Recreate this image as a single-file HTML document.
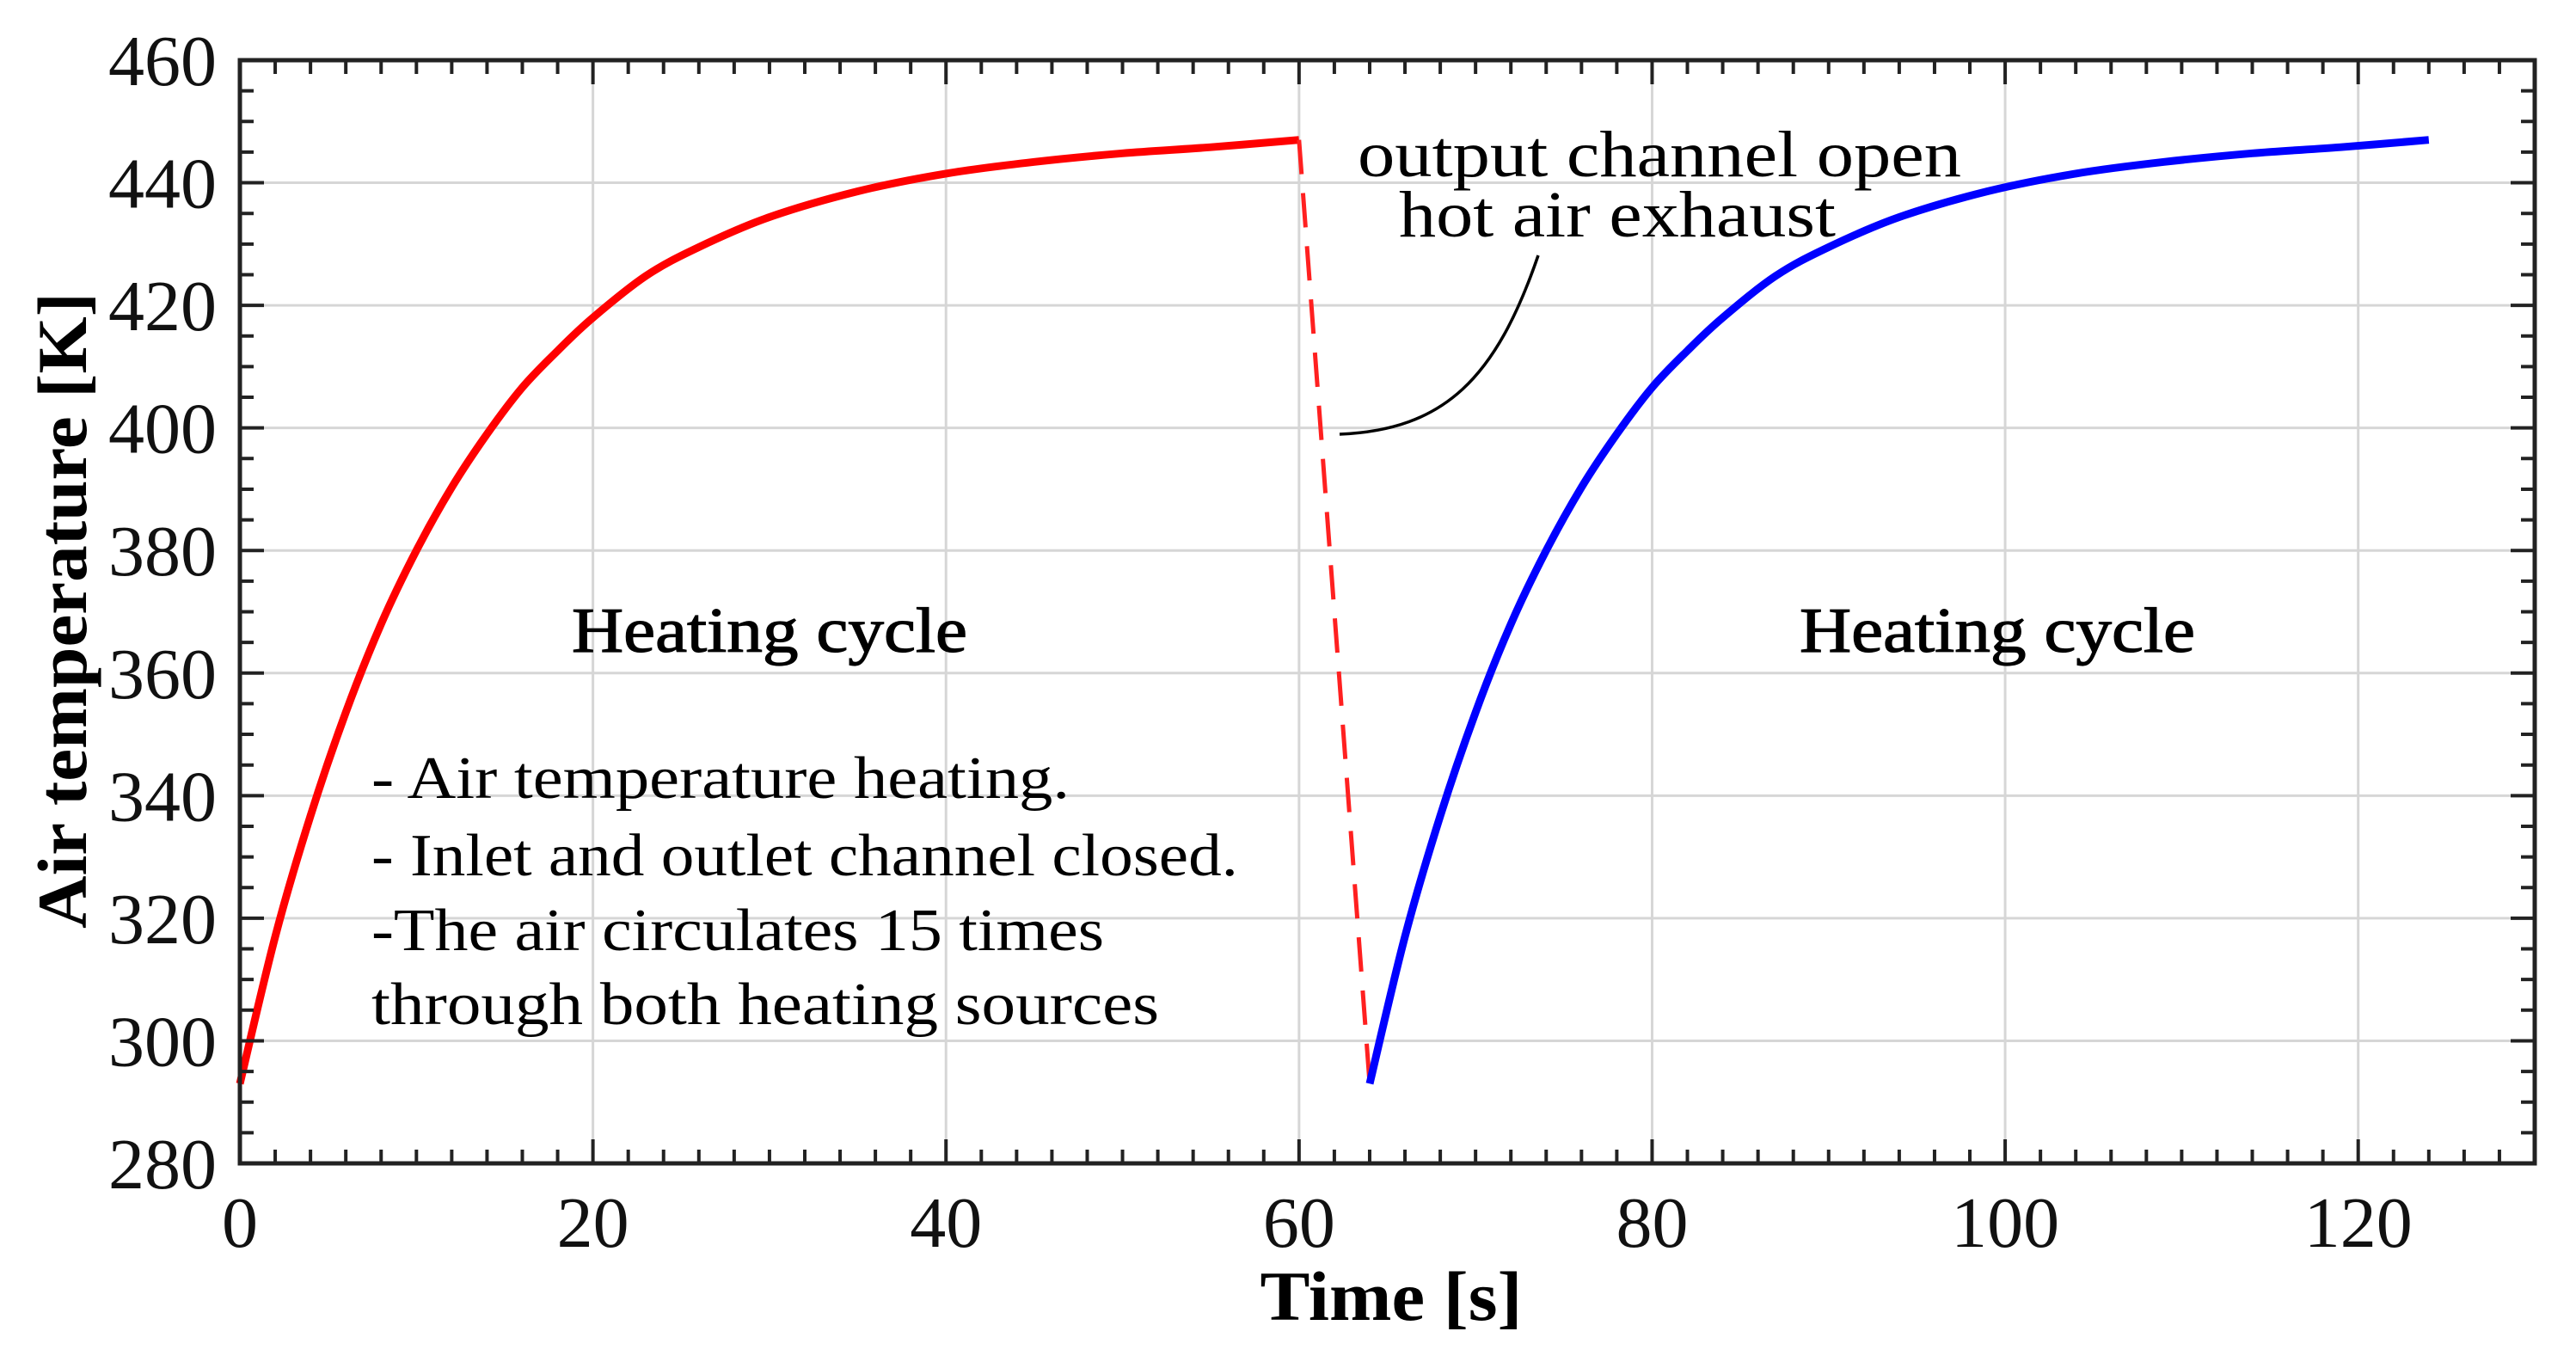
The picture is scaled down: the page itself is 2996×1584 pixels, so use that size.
<!DOCTYPE html>
<html><head><meta charset="utf-8"><style>
html,body{margin:0;padding:0;background:#fff;}
svg{display:block;font-family:"Liberation Serif",serif;}
</style></head><body>
<svg id="chart" width="2996" height="1584" viewBox="0 0 2996 1584" xmlns="http://www.w3.org/2000/svg">
<g id="grid"></g>
<g id="series"></g>
<rect x="279" y="70" width="2669" height="1283" fill="none" stroke="#222" stroke-width="5"/>
<g id="ticks"></g>
<g id="labels" font-size="84" fill="#111"></g>
<text transform="translate(100,710) rotate(-90)" text-anchor="middle" font-size="82" font-weight="bold" textLength="740" lengthAdjust="spacingAndGlyphs">Air temperature [K]</text>
<text x="1618" y="1535" text-anchor="middle" font-size="82" font-weight="bold" textLength="305" lengthAdjust="spacingAndGlyphs">Time [s]</text>
<text x="665" y="758" font-size="74" stroke="#000" stroke-width="1.2" textLength="460" lengthAdjust="spacingAndGlyphs">Heating cycle</text>
<text x="2093" y="758" font-size="74" stroke="#000" stroke-width="1.2" textLength="460" lengthAdjust="spacingAndGlyphs">Heating cycle</text>
<g font-size="70">
<text x="432" y="928" textLength="812" lengthAdjust="spacingAndGlyphs">- Air temperature heating.</text>
<text x="432" y="1018" textLength="1008" lengthAdjust="spacingAndGlyphs">- Inlet and outlet channel closed.</text>
<text x="432" y="1105" textLength="852" lengthAdjust="spacingAndGlyphs">-The air circulates 15 times</text>
<text x="432" y="1191" textLength="916" lengthAdjust="spacingAndGlyphs">through both heating sources</text>
</g>
<text x="1579" y="205" font-size="76" textLength="702" lengthAdjust="spacingAndGlyphs">output channel open</text>
<text x="1627" y="275" font-size="76" textLength="508" lengthAdjust="spacingAndGlyphs">hot air exhaust</text>
<path d="M1558 505 C1680 500 1740 440 1789 297" fill="none" stroke="#000" stroke-width="3.5"/>
</svg>
<script>
const xTicks=[0,20,40,60,80,100,120];
const yTicks=[280,300,320,340,360,380,400,420,440,460];
const heatTime1=[0,2,4,6,8,10,12,14,16,18,20,23,26,30,35,40,45,50,55,60];
const heatTemp1=[293,317,336.7,353.6,368,380,390.3,399,406.6,412.6,418,424.8,429.5,434.4,438.6,441.5,443.4,444.8,445.8,447];
const exhaustTime=[60,64];
const exhaustTemp=[447,293];
const heatTime2=[64,66,68,70,72,74,76,78,80,82,84,87,90,94,99,104,109,114,119,124];
const heatTemp2=[293,317,336.7,353.6,368,380,390.3,399,406.6,412.6,418,424.8,429.5,434.4,438.6,441.5,443.4,444.8,445.8,447];

const X0=279,X1=2948,Y0=1353,Y1=70,xMin=0,xMax=130,yMin=280,yMax=460;
const sx=v=>X0+(v-xMin)/(xMax-xMin)*(X1-X0);
const sy=v=>Y0-(v-yMin)/(yMax-yMin)*(Y0-Y1);
const NS='http://www.w3.org/2000/svg';
function mk(tag,parent){const e=document.createElementNS(NS,tag);parent.appendChild(e);return e;}
const grid=document.getElementById('grid'),ticks=document.getElementById('ticks'),labels=document.getElementById('labels'),series=document.getElementById('series');

xTicks.forEach(v=>{
  const l=mk('line',grid);
  
  
  l.setAttribute('x1',sx(v));l.setAttribute('x2',sx(v));l.setAttribute('y1',Y1);l.setAttribute('y2',Y0);
  l.setAttribute('stroke','#d6d6d6');l.setAttribute('stroke-width','3');
  const t=mk('text',labels);
  
  
  t.setAttribute('x',sx(v));t.setAttribute('y',1450);t.setAttribute('text-anchor','middle');t.textContent=v;
});
yTicks.forEach(v=>{
  const l=mk('line',grid);
  
  
  l.setAttribute('x1',X0);l.setAttribute('x2',X1);l.setAttribute('y1',sy(v));l.setAttribute('y2',sy(v));
  l.setAttribute('stroke','#d6d6d6');l.setAttribute('stroke-width','3');
  const t=mk('text',labels);
  
  
  t.setAttribute('x',252);t.setAttribute('y',sy(v)+29);t.setAttribute('text-anchor','end');t.textContent=v;
});
let d='';
for(let v=xMin;v<=xMax;v+=2){const maj=v%20===0,L=maj?28:16,x=sx(v);d+=`M${x} ${Y0}V${Y0-L}M${x} ${Y1}V${Y1+L}`;}
for(let v=yMin;v<=yMax;v+=5){const maj=v%20===0,L=maj?28:16,y=sy(v);d+=`M${X0} ${y}H${X0+L}M${X1} ${y}H${X1-L}`;}
const tp=mk('path',ticks);


tp.setAttribute('d',d);tp.setAttribute('stroke','#222');tp.setAttribute('stroke-width','4');tp.setAttribute('fill','none');

function smoothPath(xs,ys){
  const P=xs.map((x,i)=>[sx(x),sy(ys[i])]);
  if(P.length<3)return 'M'+P.map(p=>p[0].toFixed(1)+' '+p[1].toFixed(1)).join('L');
  let s='M'+P[0][0].toFixed(1)+' '+P[0][1].toFixed(1);
  for(let i=0;i<P.length-1;i++){
    const p0=P[Math.max(0,i-1)],p1=P[i],p2=P[i+1],p3=P[Math.min(P.length-1,i+2)];
    const c1=[p1[0]+(p2[0]-p0[0])/6,p1[1]+(p2[1]-p0[1])/6];
    const c2=[p2[0]-(p3[0]-p1[0])/6,p2[1]-(p3[1]-p1[1])/6];
    s+=`C${c1[0].toFixed(1)} ${c1[1].toFixed(1)} ${c2[0].toFixed(1)} ${c2[1].toFixed(1)} ${p2[0].toFixed(1)} ${p2[1].toFixed(1)}`;
  }
  return s;
}
function line(xs,ys,color,dash){
  const p=mk('path',series);
  p.setAttribute('d',smoothPath(xs,ys));
  p.setAttribute('fill','none');p.setAttribute('stroke',color);p.setAttribute('stroke-width','9');
  p.setAttribute('stroke-linejoin','round');
  if(dash)p.setAttribute('stroke-dasharray',dash);
  return p;
}
const p1=line(heatTime1,heatTemp1,'#ff0000');


const p2=line(exhaustTime,exhaustTemp,'#ff2020','40 22');
p2.setAttribute('stroke-width','5');


const p3=line(heatTime2,heatTemp2,'#0000ff');


</script>
</body></html>
